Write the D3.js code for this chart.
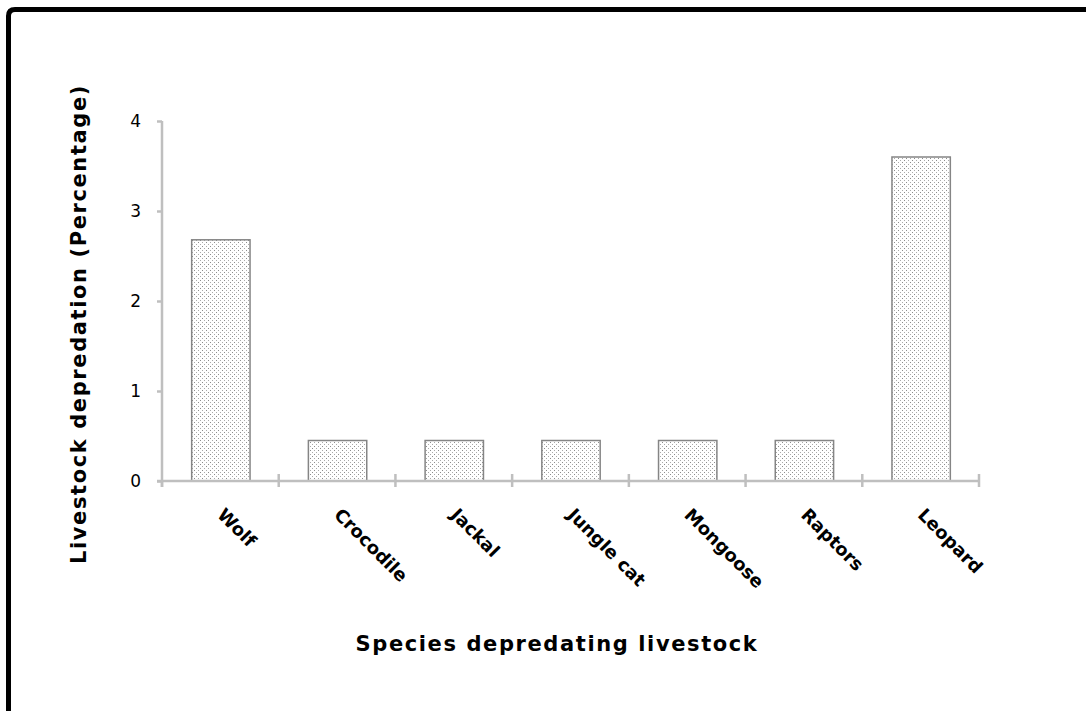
<!DOCTYPE html>
<html>
<head>
<meta charset="utf-8">
<script src="https://cdn.jsdelivr.net/npm/d3@7"></script>
<style>
  html, body { margin: 0; padding: 0; background: #fff; }
  svg { display: block; }
</style>
</head>
<body>
<svg id="chart" width="1086" height="711"></svg>
<script>
const categories = ["Wolf", "Crocodile", "Jackal", "Jungle cat", "Mongoose", "Raptors", "Leopard"];
const values = [2.68, 0.45, 0.45, 0.45, 0.45, 0.45, 3.6];
const yTicks = [0, 1, 2, 3, 4];
const yTitle = "Livestock depredation (Percentage)";
const xTitle = "Species depredating livestock";

(function () {
const svg = d3.select("#chart");
const W = 1086, H = 711;
const mLeft = 162, mRight = 979, mTop = 121, mBottom = 481;

// frame
svg.append("path")
  .attr("d", `M8.5,${H + 10} L8.5,16 Q8.5,9.5 15,9.5 L${W + 10},9.5`)
  .attr("fill", "none").attr("stroke", "#000").attr("stroke-width", 5);

// pattern
const defs = svg.append("defs");
const pat = defs.append("pattern").attr("id", "dots")
  .attr("patternUnits", "userSpaceOnUse").attr("width", 8).attr("height", 8);
pat.append("rect").attr("width", 8).attr("height", 8).attr("fill", "#fff");
[[0,0],[4,0],[2,2],[6,2],[0,4],[4,4],[2,6],[6,6]].forEach(([px, py], i) => {
  pat.append("rect").attr("x", px).attr("y", py).attr("width", 1).attr("height", 1)
    .attr("fill", i % 3 === 0 ? "#8c8c8c" : "#aaaaaa");
});

const x = d3.scaleBand().domain(categories).range([mLeft, mRight])
  .paddingInner(0.5).paddingOuter(0.25);
const y = d3.scaleLinear().domain([0, 4]).range([mBottom, mTop]);
const step = x.step();

// bars
svg.append("g").selectAll("rect").data(categories).join("rect")
  .attr("x", d => x(d) + 0.5)
  .attr("y", (d, i) => y(values[i]))
  .attr("width", x.bandwidth())
  .attr("height", (d, i) => y(0) - y(values[i]))
  .attr("fill", "url(#dots)")
  .attr("stroke", "#858585").attr("stroke-width", 1.5);

const axisColor = "#bfbfbf";
// y axis
const yAxis = svg.append("g").attr("transform", `translate(${mLeft},0)`)
  .call(d3.axisLeft(y).tickValues(yTicks).tickSize(5).tickPadding(16).tickFormat(d3.format("d")));
yAxis.select(".domain").attr("stroke", axisColor).attr("stroke-width", 2.5)
  .attr("d", `M0,${mTop}V${mBottom + 6}`);
yAxis.selectAll(".tick line").attr("stroke", axisColor).attr("stroke-width", 2.5);
yAxis.selectAll(".tick text").attr("font-family", "DejaVu Sans").attr("font-size", 17)
  .attr("fill", "#000").attr("dy", "0.35em");

// x axis line
svg.append("line").attr("x1", mLeft - 5).attr("x2", mRight).attr("y1", mBottom).attr("y2", mBottom)
  .attr("stroke", axisColor).attr("stroke-width", 2.5);
// x ticks at band boundaries
const bounds = d3.range(categories.length + 1).map(i => mLeft + i * step);
svg.append("g").selectAll("line").data(bounds).join("line")
  .attr("x1", d => d).attr("x2", d => d)
  .attr("y1", (d, i) => i === 0 ? mBottom : mBottom - 7).attr("y2", mBottom + 6)
  .attr("stroke", axisColor).attr("stroke-width", 2.5);

// category labels
svg.append("g").selectAll("text").data(categories).join("text")
  .attr("transform", d => `translate(${x(d) + x.bandwidth() / 2 - 4},${mBottom + 35}) rotate(45)`)
  .attr("font-family", "DejaVu Sans").attr("font-weight", "bold").attr("font-size", 18)
  .attr("fill", "#000")
  .text(d => d);

// titles
svg.append("text")
  .attr("transform", `translate(86,324) rotate(-90)`)
  .attr("text-anchor", "middle")
  .attr("font-family", "DejaVu Sans").attr("font-weight", "bold").attr("font-size", 21)
  .attr("letter-spacing", 1.6)
  .attr("fill", "#000").text(yTitle);

svg.append("text")
  .attr("x", 557).attr("y", 651)
  .attr("text-anchor", "middle")
  .attr("font-family", "DejaVu Sans").attr("font-weight", "bold").attr("font-size", 21)
  .attr("letter-spacing", 1.6)
  .attr("fill", "#000").text(xTitle);
})();
</script>
</body>
</html>
